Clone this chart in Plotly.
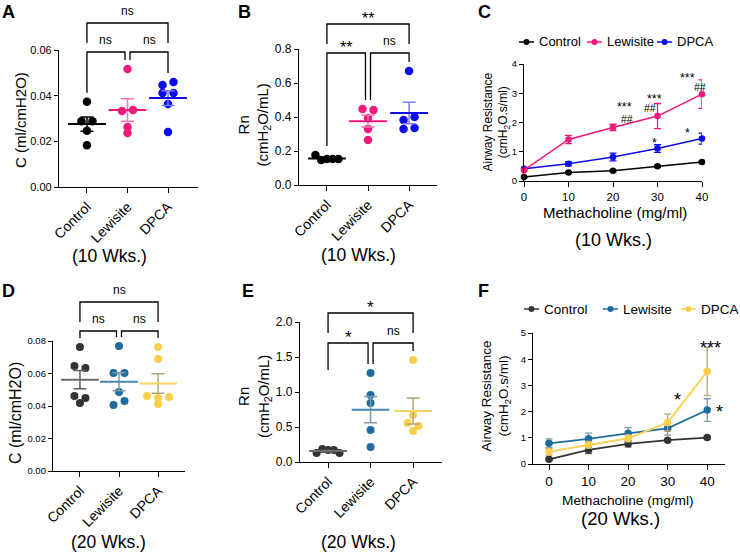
import numpy as np
import plotly.graph_objects as go

W, H = 740, 553
FONT = "Arial, Liberation Sans, Helvetica, sans-serif"

# ---------------- data ----------------
groups = ["Control", "Lewisite", "DPCA"]

A_control = [0.0373, 0.0288, 0.0288, 0.0246, 0.0183]
A_lewisite = [0.0517, 0.0333, 0.0337, 0.0263, 0.0237]
A_dpca = [0.0447, 0.0460, 0.0412, 0.0412, 0.0364, 0.0241]

B_control = [0.176, 0.147, 0.153, 0.153, 0.153]
B_lewisite = [0.447, 0.441, 0.394, 0.329, 0.265]
B_dpca = [0.670, 0.382, 0.400, 0.329, 0.335]

D_control = [0.0763, 0.0646, 0.0634, 0.0462, 0.0449, 0.0418]
D_lewisite = [0.0769, 0.0603, 0.0603, 0.0486, 0.0406, 0.0431]
D_dpca = [0.0763, 0.0689, 0.0462, 0.0449, 0.0455, 0.0412]

E_control = [0.13, 0.186, 0.171, 0.171, 0.13]
E_lewisite = [1.27, 0.957, 0.843, 0.457, 0.214]
E_dpca = [1.457, 0.671, 0.557, 0.514, 0.443]

dose = [0, 10, 20, 30, 40]
C_control = [0.14, 0.29, 0.35, 0.50, 0.65]
C_control_sem = [0.02, 0.03, 0.03, 0.03, 0.04]
C_lewisite = [0.37, 1.42, 1.83, 2.22, 2.97]
C_lewisite_sem = [0.04, 0.14, 0.11, 0.43, 0.49]
C_dpca = [0.42, 0.59, 0.82, 1.11, 1.45]
C_dpca_sem = [0.03, 0.07, 0.13, 0.13, 0.19]

F_control = [0.18, 0.54, 0.77, 0.91, 1.01]
F_control_sem = [0.04, 0.14, 0.12, 0.05, 0.05]
F_lewisite = [0.79, 0.96, 1.17, 1.36, 2.06]
F_lewisite_sem = [0.17, 0.22, 0.22, 0.26, 0.43]
F_dpca = [0.47, 0.73, 0.98, 1.58, 3.53]
F_dpca_sem = [0.13, 0.13, 0.13, 0.32, 0.92]

# significance labels (Control-Lewisite, Lewisite-DPCA, Control-DPCA)
A_sig = ["ns", "ns", "ns"]
B_sig = ["**", "ns", "**"]
D_sig = ["ns", "ns", "ns"]
E_sig = ["*", "ns", "*"]

C_marks = [(22.5, 2.63, "***"), (23.1, 2.11, "##"), (29.3, 2.91, "***"), (28.3, 2.50, "##"),
           (36.8, 3.63, "***"), (39.6, 3.20, "##"), (29.3, 1.39, "*"), (36.8, 1.76, "*")]
F_marks = [(40.8, 4.59, "***"), (32.6, 2.60, "*"), (43.2, 2.16, "*")]

# colours
col10 = ["#000000", "#F0187A", "#0B0BEF"]
mean10 = ["#000000", "#F0187A", "#0B0BEF"]
err10 = ["#000000", "#F27AB0", "#7C7CF2"]
col20 = ["#333333", "#1F6DA0", "#F9CF4C"]
mean20 = ["#6A6A6A", "#4A86B0", "#F6D560"]
err20 = ["#5E5E5E", "#7E99A9", "#B7A476"]

# ---------------- layout helpers ----------------
P = {
    'A': dict(n='', x=(59, 198), y=(50, 187), xr=(-0.69, 2.74), yr=(0, 0.06)),
    'B': dict(n='2', x=(299, 437), y=(49, 185), xr=(-0.68, 2.68), yr=(0, 0.8)),
    'C': dict(n='3', x=(524, 702), y=(64, 181), xr=(0, 40), yr=(0, 4)),
    'D': dict(n='4', x=(53, 185), y=(341, 471), xr=(-0.69, 2.69), yr=(0, 0.08)),
    'E': dict(n='5', x=(300, 442), y=(322, 462), xr=(-0.66, 2.68), yr=(0, 2.0)),
    'F': dict(n='6', x=(533, 725), y=(333, 464), xr=(-4.05, 44.5), yr=(0, 5)),
}


def py(ypx):
    return 1 - ypx / H


def px(xpx):
    return xpx / W


def ppu_y(p):
    return (p['y'][1] - p['y'][0]) / (p['yr'][1] - p['yr'][0])


def ppu_x(p):
    return (p['x'][1] - p['x'][0]) / (p['xr'][1] - p['xr'][0])


def vy_px(p, v):
    return p['y'][1] - (v - p['yr'][0]) * ppu_y(p)


def swarm_offsets(vals, ppy, ppx, thr=5.0):
    vals = np.asarray(vals, dtype=float)
    off = np.zeros(len(vals))
    rest = list(np.argsort(-vals, kind='stable'))
    while rest:
        s = rest[0]
        grp = [k for k in rest if (vals[s] - vals[k]) * ppy < thr]
        rest = [k for k in rest if k not in grp]
        grp.sort()
        m = len(grp)
        if m > 1:
            sp = min(11.0, 23.0 / (m - 1))
            for j, k in enumerate(grp):
                off[k] = (j - (m - 1) / 2) * sp / ppx
    return off


fig = go.Figure()
shapes = []
annotations = []
layout_axes = {}


def base_axis(**kw):
    d = dict(showline=True, linecolor='black', linewidth=1.3, ticks='outside', tickcolor='black',
             tickwidth=1.3, ticklen=5, showgrid=False, zeroline=False, automargin=False,
             fixedrange=True)
    d.update(kw)
    return d


def set_axes(key, xkw, ykw):
    p = P[key]
    n = p['n']
    layout_axes['xaxis' + n] = base_axis(domain=[px(p['x'][0]), px(p['x'][1])], range=list(p['xr']),
                                        anchor='y' + n, **xkw)
    layout_axes['yaxis' + n] = base_axis(domain=[py(p['y'][1]), py(p['y'][0])], range=list(p['yr']),
                                        anchor='x' + n, **ykw)


def text(x, y, s, size, xref='paper', yref='paper', xanchor='center', yanchor='middle', angle=0,
         bold=False, color='black', yshift=0):
    if bold:
        s = '<b>' + s + '</b>'
    annotations.append(dict(x=x, y=y, xref=xref, yref=yref, text=s, showarrow=False,
                            xanchor=xanchor, yanchor=yanchor, textangle=angle, yshift=yshift,
                            font=dict(family=FONT, size=size, color=color)))


def dot_panel(key, series, cols, mcols, ecols, msize, ytickvals, yfmt, ysize, catsize,
              inner_px, top_px, sig, sig_sizes, leg_override=None):
    p = P[key]
    n = p['n']
    xa, ya = 'x' + n, 'y' + n
    ppy, ppx = ppu_y(p), ppu_x(p)
    for i, vals in enumerate(series):
        off = swarm_offsets(vals, ppy, ppx)
        fig.add_trace(go.Scatter(x=i + off, y=vals, mode='markers', xaxis=xa, yaxis=ya,
                                 marker=dict(size=msize, color=cols[i]), cliponaxis=False,
                                 showlegend=False, hoverinfo='skip'))
    for i, vals in enumerate(series):
        v = np.asarray(vals, dtype=float)
        mean = v.mean()
        sem = v.std(ddof=1) / np.sqrt(len(v))
        fig.add_trace(go.Scatter(x=[i], y=[mean], mode='markers', xaxis=xa, yaxis=ya,
                                 marker=dict(symbol='line-ew', size=27, color=mcols[i],
                                             line=dict(width=2, color=mcols[i])),
                                 error_y=dict(type='data', array=[sem], color=ecols[i],
                                              thickness=1.5, width=6.5),
                                 cliponaxis=False, showlegend=False, hoverinfo='skip'))
    set_axes(key,
             dict(tickvals=[0, 1, 2], ticktext=groups, tickangle=-45,
                  tickfont=dict(family=FONT, size=catsize, color='black')),
             dict(tickvals=ytickvals, tickformat=yfmt, ticklen=4,
                  tickfont=dict(family=FONT, size=ysize, color='black')))
    # brackets
    legs = [vy_px(p, max(vals)) - 9 for vals in series]
    if leg_override:
        for k, val in leg_override.items():
            legs[k] = val
    g = 2.5 / ppx
    pairs = [(0, 1 - g, legs[0], legs[1], inner_px), (1 + g, 2, legs[1], legs[2], inner_px),
             (0, 2, top_px + 20, top_px + 20, top_px)]
    for (x0, x1, l0, l1, h), lab, fs in zip(pairs, sig, sig_sizes):
        shapes.append(dict(type='path', xref=xa, yref='paper',
                           path=f"M {x0},{py(l0)} L {x0},{py(h)} L {x1},{py(h)} L {x1},{py(l1)}",
                           line=dict(color='black', width=1.3)))
        if '*' in lab:
            yb = h - 8.5 + 0.85 * fs
        else:
            yb = h - 9 + 0.46 * fs
        text((x0 + x1) / 2, py(yb), lab, fs, xref=xa, yanchor='bottom')


def line_panel(key, series, sems, cols, ecols, msize, lw, xsize, ysize, marks, marksize, hashsize):
    p = P[key]
    n = p['n']
    xa, ya = 'x' + n, 'y' + n
    for vals, sm, c, ec in zip(series, sems, cols, ecols):
        fig.add_trace(go.Scatter(x=dose, y=vals, mode='lines+markers', xaxis=xa, yaxis=ya,
                                 line=dict(color=c, width=lw), marker=dict(size=msize, color=c),
                                 error_y=dict(type='data', array=sm, color=ec, thickness=1.3, width=3.5),
                                 cliponaxis=False, showlegend=False, hoverinfo='skip'))
    set_axes(key,
             dict(tickvals=dose, tickfont=dict(family=FONT, size=xsize, color='black')),
             dict(tickvals=list(range(int(p['yr'][1]) + 1)), ticklen=4,
                  tickfont=dict(family=FONT, size=ysize, color='black')))
    for (x, y, s) in marks:
        if '*' in s:
            text(x, y, s, marksize, xref=xa, yref=ya, yshift=-0.25 * marksize)
        else:
            text(x, y, s, hashsize, xref=xa, yref=ya)


def legend(items, y, size):
    for (x0, name, c) in items:
        shapes.append(dict(type='line', xref='paper', yref='paper', x0=px(x0), x1=px(x0 + 15),
                           y0=py(y), y1=py(y), line=dict(color=c, width=1.5)))
        r = 3
        shapes.append(dict(type='circle', xref='paper', yref='paper', x0=px(x0 + 7.5 - r),
                           x1=px(x0 + 7.5 + r), y0=py(y + r), y1=py(y - r),
                           fillcolor=c, line=dict(color=c, width=0)))
        text(px(x0 + 18), py(y), name, size, xanchor='left')


# ---------------- panels ----------------
dot_panel('A', [A_control, A_lewisite, A_dpca], col10, mean10, err10, 8.5,
          [0, 0.02, 0.04, 0.06], '.2f', 11, 14, 52, 23, A_sig, [12, 12, 12])
dot_panel('B', [B_control, B_lewisite, B_dpca], col10, mean10, err10, 8.5,
          [0, 0.2, 0.4, 0.6, 0.8], '.1f', 12, 14, 53, 24, B_sig, [16, 12, 16])
dot_panel('D', [D_control, D_lewisite, D_dpca], col20, mean20, err20, 8,
          [0, 0.02, 0.04, 0.06, 0.08], '.2f', 9.5, 14, 331, 302, D_sig, [12, 12, 12])
dot_panel('E', [E_control, E_lewisite, E_dpca], col20, mean20, err20, 8,
          [0, 0.5, 1.0, 1.5, 2.0], '.1f', 12, 14, 343, 313, E_sig, [17, 12, 17],
          leg_override={0: 370})

line_panel('C', [C_control, C_dpca, C_lewisite], [C_control_sem, C_dpca_sem, C_lewisite_sem],
           [col10[0], col10[2], col10[1]], [err10[0], col10[2], col10[1]], 6.5, 1.5, 11.5, 9.5,
           C_marks, 12.5, 10.5)
line_panel('F', [F_control, F_lewisite, F_dpca], [F_control_sem, F_lewisite_sem, F_dpca_sem],
           col20, err20, 7.5, 1.8, 13.5, 9.5, F_marks, 18, 14)

legend([(519, "Control", col10[0]), (587, "Lewisite", col10[1]), (657, "DPCA", col10[2])], 42, 13)
legend([(524, "Control", col20[0]), (603, "Lewisite", col20[1]), (681, "DPCA", col20[2])], 309, 13.5)

# axis titles
text(px(21), py(120), "C (ml/cmH2O)", 15, angle=-90)
text(px(253.5), py(125), "Rn<br>(cmH<sub>2</sub>O/mL)", 15, angle=-90)
text(px(496.5), py(122), "Airway Resistance<br>(cmH<sub>2</sub>O.s/ml)", 12, angle=-90)
text(px(15), py(413), "C (ml/cmH2O)", 16, angle=-90)
text(px(255), py(396), "Rn<br>(cmH<sub>2</sub>O/mL)", 15, angle=-90)
text(px(495.5), py(396), "Airway Resistance<br>(cmH<sub>2</sub>O.s/ml)", 13.5, angle=-90)

text(px(615), py(212), "Methacholine (mg/ml)", 15)
text(px(627.5), py(500), "Methacholine (mg/ml)", 13.7)

text(px(109), py(256), "(10 Wks.)", 17.5)
text(px(358), py(255), "(10 Wks.)", 17.5)
text(px(613), py(240), "(10 Wks.)", 18)
text(px(108), py(542), "(20 Wks.)", 17.5)
text(px(358), py(542), "(20 Wks.)", 17.5)
text(px(620), py(518), "(20 Wks.)", 18.5)

# panel letters
for s, x, y in [("A", 8, 12), ("B", 244, 12), ("C", 484, 12), ("D", 8, 291), ("E", 247.5, 291), ("F", 483, 291)]:
    text(px(x), py(y), s, 18, bold=True)

fig.update_layout(width=W, height=H, margin=dict(l=0, r=0, t=0, b=0),
                  plot_bgcolor='white', paper_bgcolor='white', showlegend=False,
                  shapes=shapes, annotations=annotations, **layout_axes)

fig.write_html("out.html", config={'displayModeBar': False},
               post_script="document.body.style.margin='0';")
